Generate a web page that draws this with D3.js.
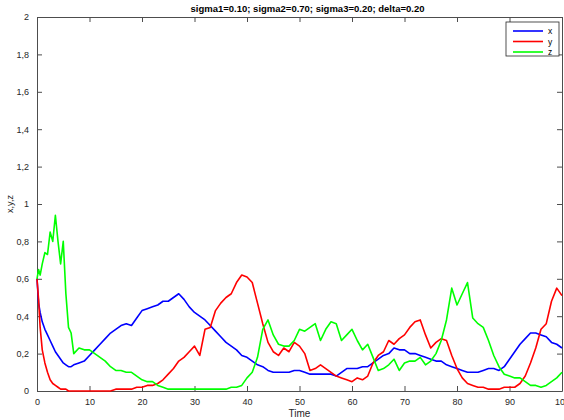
<!DOCTYPE html>
<html>
<head>
<meta charset="utf-8">
<script src="https://cdn.jsdelivr.net/npm/d3@7"></script>
<style>
  body { margin: 0; background: #fff; }
  svg text { font-family: "Liberation Sans", Arial, sans-serif; }
</style>
</head>
<body>
<div id="chart"></div>
<script>
// time samples (finer at the start where the paths move fast)
const time = [0, 0.3, 0.6, 1, 1.5, 2, 2.5, 3, 3.5, 4, 4.5, 5, 5.5, 6, 6.5, 7,
  8, 9, 10, 11, 12, 13, 14, 15, 16, 17, 18, 19, 20, 21, 22, 23, 24, 25, 26, 27, 28, 29,
  30, 31, 32, 33, 34, 35, 36, 37, 38, 39, 40, 41, 42, 43, 44, 45, 46, 47, 48, 49,
  50, 51, 52, 53, 54, 55, 56, 57, 58, 59, 60, 61, 62, 63, 64, 65, 66, 67, 68, 69,
  70, 71, 72, 73, 74, 75, 76, 77, 78, 79, 80, 81, 82, 83, 84, 85, 86, 87, 88, 89,
  90, 91, 92, 93, 94, 95, 96, 97, 98, 99, 100];

const xVals = [0.60, 0.47, 0.42, 0.37, 0.33, 0.30, 0.27, 0.24, 0.21, 0.19, 0.17, 0.15, 0.14, 0.13, 0.13, 0.14,
  0.15, 0.16, 0.19, 0.22, 0.25, 0.28, 0.31, 0.33, 0.35, 0.36, 0.35, 0.39, 0.43, 0.44, 0.45, 0.46, 0.48, 0.48, 0.50, 0.52, 0.49, 0.45,
  0.42, 0.40, 0.38, 0.35, 0.32, 0.29, 0.26, 0.24, 0.22, 0.19, 0.18, 0.16, 0.14, 0.13, 0.11, 0.10, 0.10, 0.10, 0.10, 0.11,
  0.11, 0.10, 0.09, 0.09, 0.09, 0.09, 0.09, 0.08, 0.10, 0.12, 0.12, 0.12, 0.13, 0.13, 0.15, 0.17, 0.19, 0.20, 0.23, 0.22,
  0.22, 0.20, 0.20, 0.19, 0.18, 0.17, 0.16, 0.16, 0.14, 0.13, 0.12, 0.11, 0.10, 0.10, 0.10, 0.11, 0.12, 0.12, 0.11, 0.13,
  0.17, 0.21, 0.25, 0.28, 0.31, 0.31, 0.30, 0.29, 0.26, 0.25, 0.23];

const yVals = [0.60, 0.49, 0.34, 0.22, 0.15, 0.10, 0.06, 0.04, 0.03, 0.02, 0.01, 0.01, 0.01, 0.00, 0.00, 0.00,
  0.00, 0.00, 0.00, 0.00, 0.00, 0.00, 0.00, 0.01, 0.01, 0.01, 0.01, 0.02, 0.02, 0.03, 0.03, 0.04, 0.06, 0.09, 0.12, 0.16, 0.18, 0.21,
  0.24, 0.19, 0.33, 0.34, 0.43, 0.47, 0.50, 0.52, 0.58, 0.62, 0.61, 0.58, 0.47, 0.36, 0.26, 0.21, 0.19, 0.23, 0.21, 0.26,
  0.24, 0.20, 0.11, 0.12, 0.14, 0.12, 0.10, 0.08, 0.07, 0.06, 0.05, 0.07, 0.06, 0.08, 0.15, 0.19, 0.21, 0.27, 0.25, 0.28,
  0.30, 0.34, 0.37, 0.38, 0.30, 0.23, 0.26, 0.28, 0.27, 0.19, 0.12, 0.07, 0.04, 0.03, 0.02, 0.02, 0.01, 0.01, 0.01, 0.02,
  0.02, 0.02, 0.04, 0.08, 0.15, 0.23, 0.33, 0.36, 0.48, 0.55, 0.51];

const zVals = [0.60, 0.65, 0.62, 0.68, 0.74, 0.73, 0.85, 0.80, 0.94, 0.80, 0.68, 0.80, 0.52, 0.34, 0.31, 0.20,
  0.23, 0.22, 0.22, 0.20, 0.18, 0.16, 0.13, 0.11, 0.11, 0.10, 0.10, 0.08, 0.06, 0.05, 0.05, 0.03, 0.02, 0.01, 0.01, 0.01, 0.01, 0.01,
  0.01, 0.01, 0.01, 0.01, 0.01, 0.01, 0.01, 0.02, 0.02, 0.03, 0.07, 0.10, 0.18, 0.33, 0.38, 0.30, 0.25, 0.24, 0.24, 0.27,
  0.33, 0.32, 0.34, 0.36, 0.27, 0.33, 0.37, 0.36, 0.27, 0.30, 0.33, 0.27, 0.22, 0.25, 0.18, 0.11, 0.12, 0.14, 0.17, 0.11,
  0.15, 0.16, 0.16, 0.18, 0.14, 0.16, 0.20, 0.27, 0.38, 0.55, 0.46, 0.52, 0.58, 0.39, 0.36, 0.34, 0.27, 0.19, 0.13, 0.09,
  0.08, 0.07, 0.07, 0.05, 0.03, 0.03, 0.02, 0.03, 0.05, 0.07, 0.10];

const seriesNames = ["x", "y", "z"];
const seriesColors = ["#0000ff", "#ff0000", "#00ff00"];
const xTicks = [0, 10, 20, 30, 40, 50, 60, 70, 80, 90, 100];
const yTicks = [0, 0.2, 0.4, 0.6, 0.8, 1, 1.2, 1.4, 1.6, 1.8, 2];
const title = "sigma1=0.10; sigma2=0.70; sigma3=0.20; delta=0.20";

const width = 564, height = 420;
const margin = { top: 17, right: 2, bottom: 29, left: 37 };
const w = width - margin.left - margin.right;
const h = height - margin.top - margin.bottom;

const svg = d3.select("#chart").append("svg")
  .attr("width", width).attr("height", height);

const g = svg.append("g")
  .attr("transform", "translate(" + margin.left + "," + margin.top + ")");

const x = d3.scaleLinear().domain([0, 100]).range([0, w]);
const y = d3.scaleLinear().domain([0, 2]).range([h, 0]);

const axisColor = "#262626";
const fmt = d => String(d).replace(".", ",");

// axes with inward ticks (MATLAB style), box on all four sides
const styleAxis = sel => {
  sel.select(".domain").attr("stroke", "#4d4d4d").attr("stroke-width", 1);
  sel.selectAll(".tick line").attr("stroke", "#4d4d4d");
  sel.selectAll(".tick text").attr("fill", axisColor).style("font-size", "9px");
};

g.append("g").attr("transform", "translate(0," + h + ")")
  .call(d3.axisBottom(x).tickValues(xTicks).tickSize(-5).tickPadding(8).tickSizeOuter(0))
  .call(styleAxis);
g.append("g").call(d3.axisTop(x).tickValues(xTicks).tickSize(-5).tickFormat("").tickSizeOuter(0))
  .call(styleAxis);
g.append("g")
  .call(d3.axisLeft(y).tickValues(yTicks).tickSize(-5).tickPadding(8).tickFormat(fmt).tickSizeOuter(0))
  .call(styleAxis);
g.append("g").attr("transform", "translate(" + w + ",0)")
  .call(d3.axisRight(y).tickValues(yTicks).tickSize(-5).tickFormat("").tickSizeOuter(0))
  .call(styleAxis);

const line = d3.line().x(d => x(d[0])).y(d => y(d[1]));
const allVals = [xVals, yVals, zVals];

g.append("g").attr("clip-path", null)
  .selectAll("path.series")
  .data(allVals)
  .enter()
  .append("path")
  .attr("class", "series")
  .attr("fill", "none")
  .attr("stroke", (d, i) => seriesColors[i])
  .attr("stroke-width", 1.6)
  .attr("stroke-linejoin", "round")
  .attr("d", vals => line(vals.map((v, i) => [time[i], v])));

// title
svg.append("text")
  .attr("x", margin.left + w / 2 + 8).attr("y", 12)
  .attr("text-anchor", "middle")
  .style("font-size", "9.5px").style("font-weight", "bold")
  .attr("fill", "#000")
  .text(title);

// axis labels
svg.append("text")
  .attr("x", margin.left + w / 2).attr("y", height - 3)
  .attr("text-anchor", "middle")
  .style("font-size", "10px").attr("fill", axisColor)
  .text("Time");

svg.append("text")
  .attr("transform", "translate(13," + (margin.top + h / 2) + ") rotate(-90)")
  .attr("text-anchor", "middle")
  .style("font-size", "9px").attr("fill", axisColor)
  .text("x,y,z");

// legend
const legend = svg.append("g").attr("transform", "translate(506,22)");
legend.append("rect")
  .attr("width", 53).attr("height", 34)
  .attr("fill", "#fff").attr("stroke", "#262626").attr("stroke-width", 0.8);

seriesNames.forEach((name, i) => {
  const row = legend.append("g").attr("transform", "translate(0," + (9 + i * 10.5) + ")");
  row.append("line")
    .attr("x1", 7).attr("x2", 37)
    .attr("stroke", seriesColors[i]).attr("stroke-width", 1.6);
  row.append("text")
    .attr("x", 42).attr("y", 3)
    .style("font-size", "8.5px").attr("fill", "#000")
    .text(name);
});
</script>
</body>
</html>
